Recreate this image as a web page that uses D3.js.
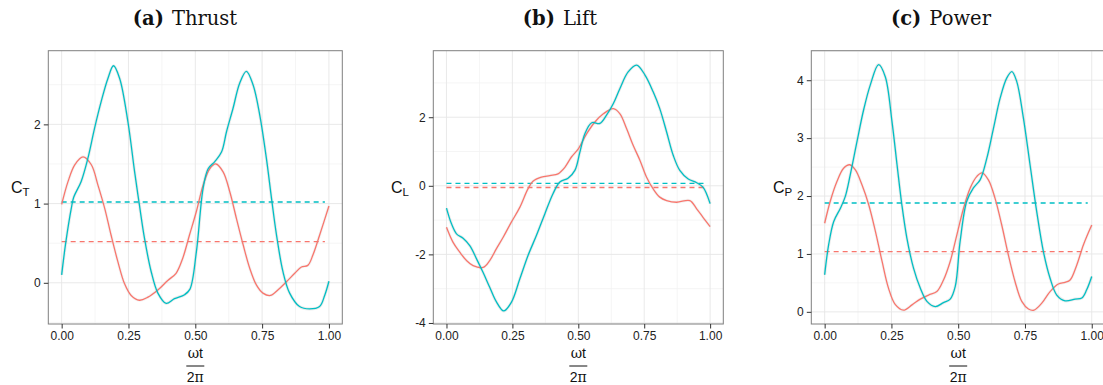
<!DOCTYPE html>
<html lang="en">
<head>
<meta charset="utf-8">
<script src="https://d3js.org/d3.v7.min.js"></script>
<style>
  body { margin: 0; background: #fff; }
  .tick text { font-family: "Liberation Sans", Arial, sans-serif; font-size: 12px; fill: #222; }
  .tick line { stroke: #333; }
  .domain { display: none; }
  .title { font-family: "DejaVu Serif", serif; font-size: 19.5px; fill: #111; }
  .axis-label { font-family: "Liberation Sans", Arial, sans-serif; fill: #111; }
</style>
</head>
<body>
<svg width="1103" height="385"></svg>
<script>
// ---- data: [phase, coefficient] ----
const thrustRed = [[0,0.99],[0.024,1.28],[0.049,1.49],[0.08,1.59],[0.111,1.49],[0.136,1.23],[0.161,0.94],[0.185,0.60],[0.21,0.27],[0.235,-0.01],[0.26,-0.16],[0.291,-0.22],[0.323,-0.18],[0.36,-0.09],[0.397,0.03],[0.428,0.12],[0.453,0.31],[0.478,0.60],[0.504,0.90],[0.529,1.23],[0.554,1.44],[0.577,1.50],[0.604,1.40],[0.629,1.15],[0.654,0.81],[0.679,0.48],[0.704,0.18],[0.729,-0.03],[0.753,-0.13],[0.781,-0.16],[0.809,-0.09],[0.84,0.01],[0.872,0.12],[0.897,0.20],[0.921,0.22],[0.94,0.35],[0.965,0.60],[1,0.97]];
const thrustTeal = [[0,0.10],[0.015,0.50],[0.036,0.94],[0.045,1.08],[0.073,1.28],[0.098,1.57],[0.123,1.95],[0.148,2.29],[0.173,2.58],[0.194,2.74],[0.217,2.58],[0.248,2.03],[0.273,1.40],[0.291,0.98],[0.31,0.56],[0.335,0.14],[0.36,-0.13],[0.391,-0.26],[0.422,-0.20],[0.46,-0.15],[0.48,-0.08],[0.504,0.39],[0.529,1.19],[0.548,1.44],[0.573,1.53],[0.598,1.65],[0.617,1.91],[0.641,2.20],[0.666,2.52],[0.691,2.67],[0.716,2.50],[0.741,2.12],[0.766,1.57],[0.785,1.07],[0.804,0.60],[0.828,0.14],[0.853,-0.13],[0.89,-0.30],[0.928,-0.33],[0.965,-0.30],[0.984,-0.16],[1,0.02]];
const liftRed = [[0,-1.21],[0.025,-1.65],[0.051,-1.94],[0.076,-2.18],[0.101,-2.33],[0.139,-2.38],[0.164,-2.18],[0.189,-1.84],[0.215,-1.50],[0.246,-1.06],[0.278,-0.63],[0.309,-0.09],[0.328,0.13],[0.36,0.25],[0.392,0.30],[0.423,0.35],[0.449,0.54],[0.474,0.84],[0.5,1.08],[0.532,1.52],[0.563,1.86],[0.595,2.10],[0.633,2.25],[0.658,2.10],[0.683,1.67],[0.708,1.18],[0.734,0.74],[0.759,0.25],[0.784,-0.09],[0.809,-0.33],[0.835,-0.43],[0.873,-0.48],[0.923,-0.43],[0.949,-0.67],[0.973,-0.92],[1,-1.19]];
const liftTeal = [[0,-0.65],[0.019,-1.11],[0.038,-1.40],[0.063,-1.53],[0.089,-1.75],[0.114,-2.13],[0.139,-2.53],[0.164,-2.96],[0.189,-3.38],[0.217,-3.65],[0.246,-3.40],[0.278,-2.72],[0.309,-2.04],[0.341,-1.45],[0.373,-0.82],[0.404,-0.23],[0.43,0.11],[0.461,0.22],[0.487,0.45],[0.506,0.98],[0.525,1.52],[0.551,1.84],[0.582,1.82],[0.607,2.06],[0.633,2.40],[0.658,2.84],[0.689,3.32],[0.721,3.52],[0.753,3.23],[0.784,2.74],[0.809,2.25],[0.835,1.57],[0.86,0.89],[0.885,0.45],[0.917,0.20],[0.949,0.09],[0.973,-0.04],[1,-0.52]];
const powerRed = [[0,1.53],[0.021,1.91],[0.046,2.25],[0.071,2.48],[0.094,2.54],[0.115,2.45],[0.14,2.19],[0.165,1.85],[0.19,1.39],[0.215,0.87],[0.239,0.41],[0.264,0.13],[0.295,0.03],[0.327,0.12],[0.358,0.22],[0.389,0.29],[0.42,0.35],[0.445,0.55],[0.47,0.87],[0.495,1.33],[0.52,1.79],[0.545,2.14],[0.57,2.34],[0.589,2.40],[0.613,2.28],[0.638,1.96],[0.663,1.50],[0.688,0.98],[0.713,0.52],[0.738,0.18],[0.763,0.05],[0.784,0.03],[0.813,0.15],[0.844,0.35],[0.875,0.48],[0.9,0.51],[0.919,0.55],[0.944,0.81],[0.969,1.16],[1,1.50]];
const powerTeal = [[0,0.64],[0.015,1.16],[0.034,1.56],[0.059,1.79],[0.077,1.99],[0.096,2.37],[0.121,2.94],[0.146,3.49],[0.171,3.92],[0.202,4.27],[0.227,4.06],[0.252,3.29],[0.271,2.54],[0.289,1.85],[0.308,1.27],[0.333,0.75],[0.358,0.41],[0.383,0.18],[0.414,0.09],[0.445,0.16],[0.47,0.22],[0.489,0.44],[0.507,1.21],[0.532,1.91],[0.557,2.14],[0.582,2.28],[0.607,2.65],[0.632,3.17],[0.657,3.69],[0.682,4.04],[0.701,4.15],[0.719,3.98],[0.744,3.35],[0.769,2.54],[0.794,1.73],[0.819,1.04],[0.844,0.58],[0.869,0.29],[0.9,0.19],[0.938,0.22],[0.963,0.24],[0.981,0.38],[1,0.61]];

// mean values (dashed lines): [red, teal]
const thrustMeans = [0.52, 1.02];
const liftMeans = [-0.05, 0.07];
const powerMeans = [1.04, 1.88];

const xTicks = [0, 0.25, 0.5, 0.75, 1];
const xMinor = [0.125, 0.375, 0.625, 0.875];
const thrustTicks = [0, 1, 2], thrustMinor = [-0.5, 0.5, 1.5, 2.5];
const liftTicks = [-4, -2, 0, 2], liftMinor = [-3, -1, 1, 3];
const powerTicks = [0, 1, 2, 3, 4], powerMinor = [0.5, 1.5, 2.5, 3.5, 4.5];

const titles = [["(a)", "Thrust"], ["(b)", "Lift"], ["(c)", "Power"]];
const yLabels = [["C", "T"], ["C", "L"], ["C", "P"]];

const red = '#F8766D', teal = '#00BFC4';

// ---- layout ----
const panels = [
  { box: [48.3, 342.3], yDom: [-0.52, 2.93], red: thrustRed, teal: thrustTeal, means: thrustMeans,
    yt: thrustTicks, ym: thrustMinor, titleX: 185, labX: 11 },
  { box: [433.3, 723.3], yDom: [-4.03, 3.94], red: liftRed, teal: liftTeal, means: liftMeans,
    yt: liftTicks, ym: liftMinor, titleX: 560, labX: 391 },
  { box: [811.3, 1105.1], yDom: [-0.21, 4.51], red: powerRed, teal: powerTeal, means: powerMeans,
    yt: powerTicks, ym: powerMinor, titleX: 941, labX: 773 }
];
const pTop = 50.7, pBottom = 324;

const svg = d3.select('svg');

panels.forEach((p, i) => {
  const x = d3.scaleLinear().domain([-0.05, 1.05]).range(p.box);
  const y = d3.scaleLinear().domain(p.yDom).range([pBottom, pTop]);
  const g = svg.append('g');
  const w = p.box[1] - p.box[0];

  const clipId = 'clip' + i;
  svg.append('clipPath').attr('id', clipId)
    .append('rect').attr('x', p.box[0]).attr('y', pTop).attr('width', w).attr('height', pBottom - pTop);

  // minor grid
  g.selectAll('.vmin').data(xMinor).enter().append('line')
    .attr('x1', d => x(d)).attr('x2', d => x(d)).attr('y1', pTop).attr('y2', pBottom)
    .attr('stroke', '#f3f3f3').attr('stroke-width', 0.8);
  g.selectAll('.hmin').data(p.ym).enter().append('line')
    .attr('x1', p.box[0]).attr('x2', p.box[1]).attr('y1', d => y(d)).attr('y2', d => y(d))
    .attr('stroke', '#f3f3f3').attr('stroke-width', 0.8);
  // major grid
  g.selectAll('.vmaj').data(xTicks).enter().append('line')
    .attr('x1', d => x(d)).attr('x2', d => x(d)).attr('y1', pTop).attr('y2', pBottom)
    .attr('stroke', '#e6e6e6').attr('stroke-width', 0.9);
  g.selectAll('.hmaj').data(p.yt).enter().append('line')
    .attr('x1', p.box[0]).attr('x2', p.box[1]).attr('y1', d => y(d)).attr('y2', d => y(d))
    .attr('stroke', '#e6e6e6').attr('stroke-width', 0.9);

  const plot = g.append('g').attr('clip-path', `url(#${clipId})`);

  // dashed means
  plot.selectAll('.mean').data([[p.means[0], red], [p.means[1], teal]]).enter().append('line')
    .attr('x1', x(0)).attr('x2', x(0.985)).attr('y1', d => y(d[0])).attr('y2', d => y(d[0]))
    .attr('stroke', d => d[1]).attr('stroke-width', 1.4).attr('stroke-dasharray', '5,4');

  const line = d3.line().x(d => x(d[0])).y(d => y(d[1])).curve(d3.curveCatmullRom.alpha(0.5));
  [[p.red, red, 0.1], [p.teal, teal, 0.18]].forEach(([data, col, op]) => {
    // faint grey band standing in for the smoother's confidence ribbon
    plot.append('path').datum(data).attr('d', line).attr('fill', 'none')
      .attr('stroke', '#888').attr('stroke-opacity', op).attr('stroke-width', 3);
    plot.append('path').datum(data).attr('d', line).attr('fill', 'none')
      .attr('stroke', col).attr('stroke-width', 1.3);
  });

  // border
  g.append('rect').attr('x', p.box[0]).attr('y', pTop).attr('width', w).attr('height', pBottom - pTop)
    .attr('fill', 'none').attr('stroke', '#7f7f7f').attr('stroke-width', 1);

  // axes
  g.append('g').attr('transform', `translate(0,${pBottom})`)
    .call(d3.axisBottom(x).tickValues(xTicks).tickFormat(d3.format('.2f')).tickSize(4.5).tickPadding(3));
  g.append('g').attr('transform', `translate(${p.box[0]},0)`)
    .call(d3.axisLeft(y).tickValues(p.yt).tickFormat(d => d < 0 ? '-' + Math.abs(d) : d).tickSize(4.5).tickPadding(3));

  // y label
  const yl = svg.append('text').attr('class', 'axis-label').attr('x', p.labX).attr('y', (pTop + pBottom) / 2 + 5.5)
    .style('font-size', '16px');
  yl.append('tspan').text(yLabels[i][0]);
  yl.append('tspan').attr('dy', 3).style('font-size', '11.5px').text(yLabels[i][1]);

  // x label as fraction
  const cx = x(0.5);
  svg.append('text').attr('class', 'axis-label').attr('x', cx).attr('y', 358).attr('text-anchor', 'middle')
    .style('font-size', '14px').html('<tspan font-family="DejaVu Serif">ω</tspan>t');
  svg.append('line').attr('x1', cx - 9).attr('x2', cx + 9).attr('y1', 366).attr('y2', 366)
    .attr('stroke', '#111').attr('stroke-width', 1);
  svg.append('text').attr('class', 'axis-label').attr('x', cx).attr('y', 381.5).attr('text-anchor', 'middle')
    .style('font-size', '14px').html('2<tspan font-family="DejaVu Serif">π</tspan>');

  // title
  const t = svg.append('text').attr('class', 'title').attr('x', p.titleX).attr('y', 25).attr('text-anchor', 'middle');
  t.append('tspan').attr('font-weight', 'bold').text(titles[i][0]);
  t.append('tspan').attr('dx', 8).text(titles[i][1]);
});
</script>
</body>
</html>
